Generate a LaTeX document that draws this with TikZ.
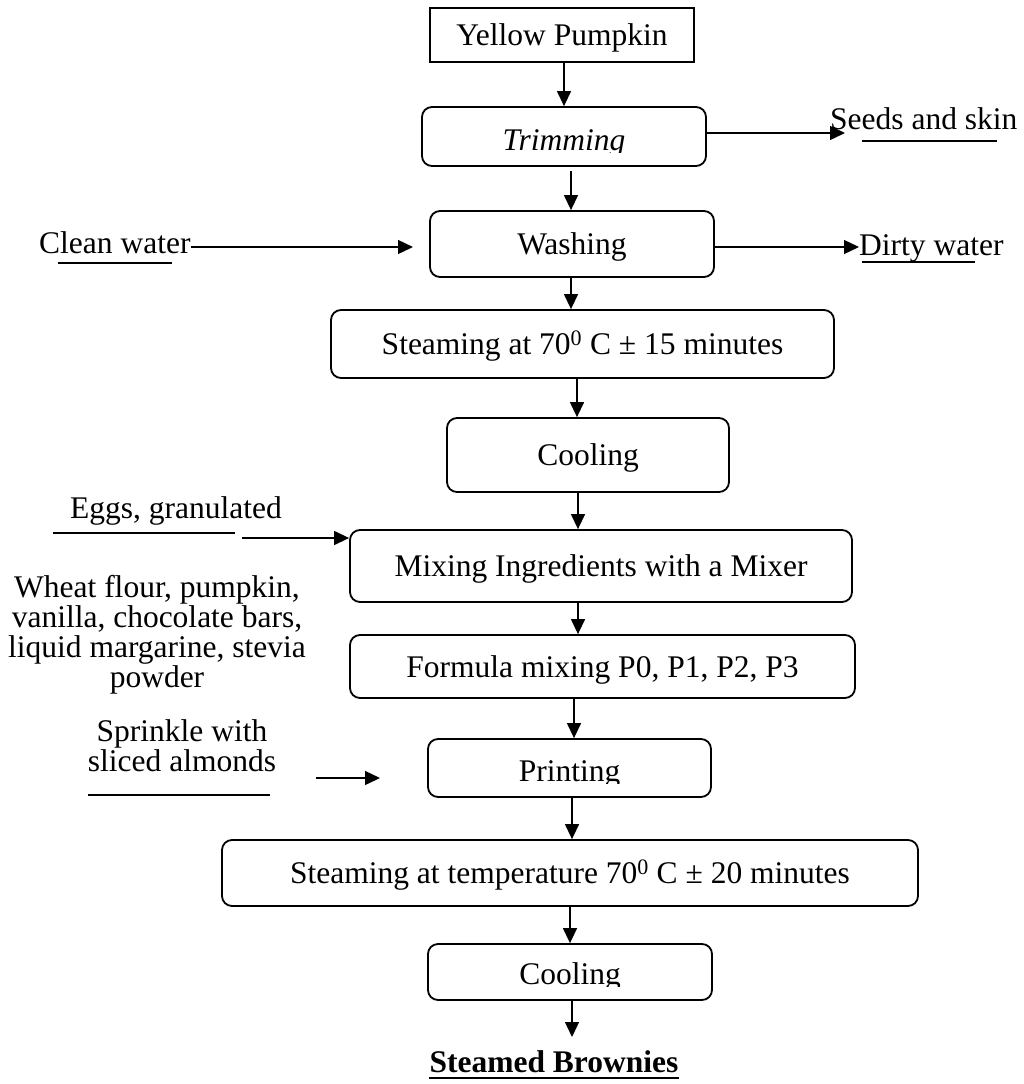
\documentclass[tikz,border=0pt]{standalone}
\usepackage{fontspec}
\setmainfont{Liberation Serif}
\usetikzlibrary{arrows.meta}
\begin{document}
\begin{tikzpicture}[x=1pt,y=-1pt,
  box/.style={draw, line width=1.8pt, rounded corners=10pt, inner sep=0pt},
  sqbox/.style={draw, line width=1.2pt, inner sep=0pt},
  btxt/.style={font=\fontsize{31.5}{30}\selectfont, text height=21pt, text depth=0pt},
  lbl/.style={inner sep=0pt, font=\fontsize{31.5}{30}\selectfont},
  arr/.style={line width=1.3pt, -{Triangle[length=15pt,width=14pt]}},
  uline/.style={line width=1.4pt},
]
\useasboundingbox (0,0) rectangle (1024,1084);

% main boxes
\node[sqbox, btxt, minimum width=264pt, minimum height=54pt] (yp) at (562,35) {Yellow Pumpkin};
\node[box, minimum width=284pt, minimum height=59pt] (trim) at (564,136.5) {};
\coordinate (trimcut) at (0,152);
\begin{scope}
  \clip (trim.north west) rectangle (trim.east |- trimcut);
  \node[lbl, anchor=base] (trimtxt) at (564,150) {\itshape Trimming};
\end{scope}
\node[box, btxt, minimum width=284pt, minimum height=66pt] (wash) at (572,244) {Washing};
\node[box, btxt, minimum width=503pt, minimum height=68pt] (steam1) at (582.5,344) {Steaming at 70\textsuperscript{0} C ± 15 minutes};
\node[box, btxt, minimum width=282pt, minimum height=74pt] (cool1) at (588,455) {Cooling};
\node[box, btxt, minimum width=502pt, minimum height=72pt] (mix) at (601,566) {Mixing Ingredients with a Mixer};
\node[box, btxt, minimum width=505pt, minimum height=63pt] (form) at (602.5,666.5) {Formula mixing P0, P1, P2, P3};
\node[box, minimum width=283pt, minimum height=58pt] (print) at (569.5,768) {};
\coordinate (printcut) at (0,783);
\begin{scope}
  \clip (print.north west) rectangle (print.east |- printcut);
  \node[lbl, anchor=base] (printtxt) at (569.5,781) {Printing};
\end{scope}
\node[box, btxt, minimum width=696pt, minimum height=66pt] (steam2) at (570,873) {Steaming at temperature 70\textsuperscript{0} C ± 20 minutes};
\node[box, minimum width=284pt, minimum height=56pt] (cool2) at (570,972) {};
\coordinate (coolcut) at (0,986);
\begin{scope}
  \clip (cool2.north west) rectangle (cool2.east |- coolcut);
  \node[lbl, anchor=base] (cool2txt) at (570,984) {Cooling};
\end{scope}
\node[lbl, anchor=base, font=\fontsize{31.5}{30}\selectfont\bfseries] (final) at (554,1072) {Steamed Brownies};
\draw[line width=2.6pt] ([yshift=-6pt]final.base west) -- ([yshift=-6pt]final.base east);

% side labels
\node[lbl, anchor=base west] (seeds) at (830,129) {Seeds and skin};
\node[lbl, anchor=base west] (clean) at (39,253) {Clean water};
\node[lbl, anchor=base west] (dirty) at (859,255) {Dirty water};
\node[lbl, anchor=base west] (eggs) at (70,518) {Eggs, granulated};
\node[lbl, align=center] (wheat) at (157,635) {Wheat flour, pumpkin,\\vanilla, chocolate bars,\\liquid margarine, stevia\\powder};
\node[lbl, align=center] (sprinkle) at (182,746) {Sprinkle with\\sliced almonds};

% underlines
\draw[uline] (862,141) -- (997,141);
\draw[uline] (58,263) -- (172,263);
\draw[uline] (862,262) -- (975,262);
\draw[uline] (53,533) -- (235,533);
\draw[uline] (88,795) -- (270,795);

% vertical arrows
\coordinate (ax1) at (564,0);
\coordinate (ax2) at (571,0);
\coordinate (ax4) at (577,0);
\coordinate (ax5) at (578,0);
\coordinate (ax7) at (574,0);
\coordinate (ax8) at (572,0);
\coordinate (ax9) at (570,0);
\coordinate (endpt) at (572,1037);
\draw[arr] (yp.south -| ax1) -- (trim.north -| ax1);
\draw[arr, shorten <=4pt] (trim.south -| ax2) -- (wash.north -| ax2);
\draw[arr] (wash.south -| ax2) -- (steam1.north -| ax2);
\draw[arr] (steam1.south -| ax4) -- (cool1.north -| ax4);
\draw[arr] (cool1.south -| ax5) -- (mix.north -| ax5);
\draw[arr] (mix.south -| ax5) -- (form.north -| ax5);
\draw[arr] (form.south -| ax7) -- (print.north -| ax7);
\draw[arr] (print.south -| ax8) -- (steam2.north -| ax8);
\draw[arr] (steam2.south -| ax9) -- (cool2.north -| ax9);
\draw[arr] (cool2.south -| endpt) -- (endpt);

% side arrows
\coordinate (seedsend) at (845,133);
\draw[arr] (trim.east |- seedsend) -- (seedsend);
\coordinate (cwend) at (413,247);
\draw[arr] (clean.east |- cwend) -- (cwend);
\coordinate (dwy) at (0,247);
\draw[arr] (wash.east |- dwy) -- (dirty.west |- dwy);
\coordinate (eggsstart) at (242,538);
\draw[arr] (eggsstart) -- (mix.west |- eggsstart);
\coordinate (sprstart) at (316,778);
\coordinate (sprend) at (380,778);
\draw[arr] (sprstart) -- (sprend);
\end{tikzpicture}
\end{document}
